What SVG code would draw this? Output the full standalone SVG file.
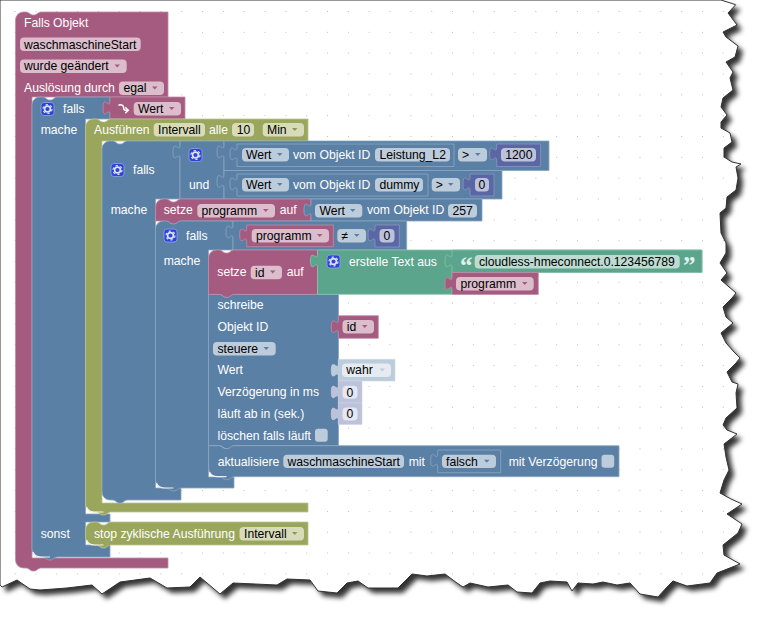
<svg xmlns="http://www.w3.org/2000/svg" width="764" height="620" viewBox="0 0 764 620">
<style>
text{font-family:"Liberation Sans",Arial,sans-serif;font-size:12.2px}
.l{fill:#fff}.t{fill:#000}
.pk{fill:#A55B80;stroke:#C08CA6;stroke-width:.8}
.bl{fill:#5B80A5;stroke:#8CA6C0;stroke-width:.8}
.ol{fill:#9AA65C;stroke:#BCC58F;stroke-width:.8}
.gr{fill:#5BA58C;stroke:#8CC0AE;stroke-width:.8}
.pu{fill:#5B67A5;stroke:#8C95C0;stroke-width:.8}
.sb{fill:#BDCCDB;stroke:#CFDAE6;stroke-width:.6}
.sp{fill:#BDC2DB;stroke:#CFD3E6;stroke-width:.6}
.fp{fill:#DBBDCC}.fb{fill:#BDCCDB}.fo{fill:#D7DBB9}.fg{fill:#BDDBD1}.fu{fill:#BDC2DB}.fw{fill:#E5EBF1}.fs{fill:#E5E7F1}
.ap{fill:#A55B80}.ab{fill:#5B80A5}.ao{fill:#8E9A50}.aw{fill:#BDCCDB}
.hl{fill:none;stroke:#fff;stroke-width:1.2;opacity:.85}
</style>
<defs>
<pattern id="dots" patternUnits="userSpaceOnUse" x="14.6" y="11" width="20.83" height="20.83"><rect width="1" height="1" fill="#bdbdbd"/></pattern>
<filter id="soft" x="-5%" y="-5%" width="110%" height="110%"><feGaussianBlur stdDeviation="2.6"/></filter>
<path id="arr" d="M0,0h5.5l-2.75,3z"/>
<g id="gear">
<rect x=".5" y=".5" width="13" height="13" rx="3" fill="#2E43D8" stroke="#8FA4E6" stroke-width=".8"/>
<circle cx="7" cy="7" r="2.9" fill="none" stroke="#DDE3FA" stroke-width="1.7"/>
<circle cx="7" cy="7" r="4.5" fill="none" stroke="#DDE3FA" stroke-width="1.2" stroke-dasharray="2.3 2.4"/>
</g>
<path id="cb" d="M3,0h6.7a3,3 0 0 1 3,3v7a3,3 0 0 1 -3,3h-6.7a3,3 0 0 1 -3,-3v-7a3,3 0 0 1 3,-3z"/>
<polygon id="paper" points="0,0 721,0 735.7,4.7 728,13 737,25 723,32 726,37 738,46 735,57 726,62 733,72 730,78 733,90 723,98 721,107 727,115 721,122 721,128 730,133 732,142 724,148 724,157 732,162 741,164 736,167 738,178 736,190 727,197 726,208 720,213 721,233 726,243 726,253 720,263 727,273 721,280 736,293 732,298 723,307 726,317 733,323 721,333 726,343 734,352 740,358 736,363 727,372 732,382 738,384 736,393 737,408 726,418 723,425 727,430 737,434 724,444 726,457 729,470 724,480 720,493 731,499 742,504 727,514 742,524 738,533 723,545 724,555 740,564 717,573 710,583 687,586 673,581 667,587 658,597 640,594 630,583 617,585 603,582 593,584 578,583 572,591 567,582 550,581 540,583 532,593 517,592 508,585 488,587 470,583 463,587 457,583 445,574 427,576 412,574 403,583 398,588 368,588 358,581 347,583 337,593 318,591 310,580 287,579 277,585 233,583 220,594 200,577 190,587 167,588 150,578 120,582 102,594 92,585 67,588 40,590 30,589 17,580 2,587 0,585"/>
</defs>
<rect width="764" height="620" fill="#fff"/>
<use href="#paper" transform="translate(5,5)" fill="#000" opacity=".8" filter="url(#soft)"/>
<use href="#paper" fill="#fff"/>
<use href="#paper" fill="url(#dots)" stroke="#333" stroke-width="1"/>

<g id="connectors"></g>

<g id="falls-objekt">
<path class="pk" d="M15.5,20a8,8 0 0 1 8,-8h2c1.500,0 3,.5 4,1.500l1.500,1c.7,.5 1.500,.5 2.500,.5s1.800,0 2.500,-.5l1.500,-1c1,-1 2.500,-1.500 4,-1.500H168V97H32V558H168V568H41.500c-1.500,0 -3,.5 -4,1.500l-1.500,1c-.7,.5 -1.500,.5 -2.500,.5s-1.800,0 -2.500,-.5l-1.500,-1c-1,-1 -2.500,-1.500 -4,-1.500h-2a8,8 0 0 1 -8,-8z"/>
<text class="l" x="24" y="27">Falls Objekt</text>
<rect class="fp" x="20" y="37.500" width="120.700" height="13.500" rx="4"/><text class="t" x="24" y="49">waschmaschineStart</text>
<rect class="fp" x="20" y="59.500" width="106.700" height="13.500" rx="4"/><text class="t" x="24" y="70.300">wurde geändert</text><use href="#arr" class="ap" x="114.500" y="64.500"/>
<text class="l" x="24" y="92.300">Auslösung durch</text>
<rect class="fp" x="119" y="81.500" width="45" height="13.500" rx="4"/><text class="t" x="123.500" y="92.300">egal</text><use href="#arr" class="ap" x="152" y="86.500"/>
</g>

<g id="falls-1">
<path class="bl" d="M32,105a8,8 0 0 1 8,-8h2c1.500,0 3,.5 4,1.500l1.500,1c.7,.5 1.500,.5 2.500,.5s1.800,0 2.500,-.5l1.500,-1c1,-1 2.500,-1.500 4,-1.500H110V119H85.500V514H110V522H85.500V545H110V557H58c-1.500,0 -3,.5 -4,1.500l-1.500,1c-.7,.5 -1.500,.5 -2.500,.5s-1.800,0 -2.500,-.5l-1.500,-1c-1,-1 -2.500,-1.500 -4,-1.500h-2a8,8 0 0 1 -8,-8z"/>
<path class="hl" d="M33,552q2,5 8,5h9"/>
<use href="#gear" x="40.500" y="102"/>
<text class="l" x="63" y="112.900">falls</text>
<text class="l" x="40.700" y="134">mache</text>
<text class="l" x="40.700" y="538">sonst</text>
</g>

<g id="wert-1">
<path class="pk" d="M110,97v4.500c0,8 -7,-7 -7,6.500s7,-2 7,6.500V119H185V97z"/>
<path d="M119,105c3,-.6 4.700,.8 4.700,3q0,2.300 2,2.300h2M125.700,107.800l2.600,2.500 -2.600,2.500" fill="none" stroke="#fff" stroke-width="1.500" stroke-linecap="round"/>
<rect class="fp" x="133.700" y="102" width="47.300" height="13.500" rx="4"/><text class="t" x="138" y="113">Wert</text><use href="#arr" class="ap" x="169" y="107"/>
</g>

<g id="ausfuehren">
<path class="ol" d="M85.500,127a8,8 0 0 1 8,-8h2c1.500,0 3,.5 4,1.500l1.500,1c.7,.5 1.500,.5 2.500,.5s1.800,0 2.500,-.5l1.500,-1c1,-1 2.500,-1.500 4,-1.500H308V141H102V503H308V512H111.500c-1.500,0 -3,.5 -4,1.500l-1.500,1c-.7,.5 -1.500,.5 -2.500,.5s-1.800,0 -2.500,-.5l-1.500,-1c-1,-1 -2.500,-1.500 -4,-1.500h-2a8,8 0 0 1 -8,-8z"/>
<path class="hl" d="M86.500,507q2,5 8,5h9"/>
<text class="l" x="94" y="134">Ausführen</text>
<rect class="fo" x="153.700" y="123" width="51.300" height="13.500" rx="4"/><text class="t" x="158" y="134">Intervall</text>
<text class="l" x="209" y="134">alle</text>
<rect class="fo" x="232" y="123" width="22" height="13.500" rx="4"/><text class="t" x="236.700" y="134">10</text>
<rect class="fo" x="262.700" y="123" width="41.300" height="13.500" rx="4"/><text class="t" x="267" y="134">Min</text><use href="#arr" class="ao" x="292" y="128"/>
</g>

<g id="stop-intervall">
<path class="ol" d="M85.500,530a8,8 0 0 1 8,-8h2c1.500,0 3,.5 4,1.500l1.500,1c.7,.5 1.500,.5 2.500,.5s1.800,0 2.500,-.5l1.500,-1c1,-1 2.500,-1.500 4,-1.500H308V545H111.500c-1.500,0 -3,.5 -4,1.500l-1.500,1c-.7,.5 -1.500,.5 -2.500,.5s-1.800,0 -2.500,-.5l-1.500,-1c-1,-1 -2.500,-1.500 -4,-1.500h-2a8,8 0 0 1 -8,-8z"/>
<path class="hl" d="M86.500,540q2,5 8,5h9"/>
<text class="l" x="94" y="538">stop zyklische Ausführung</text>
<rect class="fo" x="239.500" y="527" width="64.500" height="13.500" rx="4"/><text class="t" x="244" y="538">Intervall</text><use href="#arr" class="ao" x="292" y="532"/>
</g>

<g id="falls-2">
<path class="bl" d="M102,149a8,8 0 0 1 8,-8h2c1.500,0 3,.5 4,1.500l1.500,1c.7,.5 1.500,.5 2.500,.5s1.800,0 2.500,-.5l1.500,-1c1,-1 2.500,-1.500 4,-1.500H180V199H155.500V488H181V500H128c-1.500,0 -3,.5 -4,1.500l-1.500,1c-.7,.5 -1.500,.5 -2.500,.5s-1.800,0 -2.500,-.5l-1.500,-1c-1,-1 -2.500,-1.500 -4,-1.500h-2a8,8 0 0 1 -8,-8z"/>
<use href="#gear" x="110.500" y="163"/>
<text class="l" x="133" y="174">falls</text>
<text class="l" x="110.700" y="214">mache</text>
</g>

<g id="und">
<path class="bl" d="M180,141v4.500c0,8 -7,-7 -7,6.500s7,-2 7,6.500V199H224V141z"/>
<use href="#gear" x="188.500" y="148"/>
<text class="l" x="189" y="189">und</text>
</g>

<g id="vergleich-1">
<path class="bl" d="M224,141v4.500c0,8 -7,-7 -7,6.500s7,-2 7,6.500V170.500H549V141z"/>
<path class="bl" d="M237,144v3.500c0,8 -7,-7 -7,6.500s7,-2 7,6.500V166.500H454V144z"/>
<rect class="fb" x="242" y="148" width="47" height="13.500" rx="4"/><text class="t" x="246" y="159">Wert</text><use href="#arr" class="ab" x="277" y="153"/>
<text class="l" x="293" y="159">vom Objekt ID</text>
<rect class="fb" x="375" y="148" width="75" height="13.500" rx="4"/><text class="t" x="379.500" y="159">Leistung_L2</text>
<rect class="fb" x="458" y="148" width="29" height="13.500" rx="4"/><text class="t" x="462" y="159">&gt;</text><use href="#arr" class="ab" x="475" y="153"/>
<path class="pu" d="M496.700,144v3.500c0,8 -7,-7 -7,6.500s7,-2 7,6.500V166.500H540.700V144z"/>
<rect class="fu" x="501" y="148" width="35" height="13.500" rx="4"/><text class="t" x="505.300" y="159">1200</text>
</g>

<g id="vergleich-2">
<path class="bl" d="M224,170.500v4.500c0,8 -7,-7 -7,6.500s7,-2 7,6.500V199H502V170.500z"/>
<path class="bl" d="M237,174v3.500c0,8 -7,-7 -7,6.500s7,-2 7,6.500V196H428V174z"/>
<rect class="fb" x="242" y="178" width="47" height="13.500" rx="4"/><text class="t" x="246" y="189">Wert</text><use href="#arr" class="ab" x="277" y="183"/>
<text class="l" x="293" y="189">vom Objekt ID</text>
<rect class="fb" x="375" y="178" width="48" height="13.500" rx="4"/><text class="t" x="379.500" y="189">dummy</text>
<rect class="fb" x="431.700" y="178" width="28.300" height="13.500" rx="4"/><text class="t" x="435.700" y="189">&gt;</text><use href="#arr" class="ab" x="448" y="183"/>
<path class="pu" d="M470,174v3.500c0,8 -7,-7 -7,6.500s7,-2 7,6.500V196H494V174z"/>
<rect class="fu" x="475" y="178" width="14" height="13.500" rx="4"/><text class="t" x="478.500" y="189">0</text>
</g>

<g id="setze-programm">
<path class="pk" d="M155.500,207a8,8 0 0 1 8,-8h2c1.500,0 3,.5 4,1.500l1.500,1c.7,.5 1.500,.5 2.500,.5s1.800,0 2.500,-.5l1.500,-1c1,-1 2.500,-1.500 4,-1.500H311V221H181.500c-1.500,0 -3,.5 -4,1.500l-1.500,1c-.7,.5 -1.500,.5 -2.500,.5s-1.800,0 -2.500,-.5l-1.500,-1c-1,-1 -2.500,-1.500 -4,-1.500H155.500z"/>
<text class="l" x="163.700" y="214">setze</text>
<rect class="fp" x="197.300" y="204" width="77.700" height="13.500" rx="4"/><text class="t" x="201.600" y="215">programm</text><use href="#arr" class="ap" x="263" y="209"/>
<text class="l" x="279.700" y="214">auf</text>
</g>

<g id="wert-257">
<path class="bl" d="M311,199v4.500c0,8 -7,-7 -7,6.500s7,-2 7,6.500V221H482V199z"/>
<rect class="fb" x="315" y="204" width="47.300" height="13.500" rx="4"/><text class="t" x="319.500" y="215">Wert</text><use href="#arr" class="ab" x="350" y="209"/>
<text class="l" x="367" y="214">vom Objekt ID</text>
<rect class="fb" x="448" y="204" width="29" height="13.500" rx="4"/><text class="t" x="452.500" y="215">257</text>
</g>

<g id="falls-3">
<path class="bl" d="M155.500,229a8,8 0 0 1 8,-8h2c1.500,0 3,.5 4,1.500l1.500,1c.7,.5 1.500,.5 2.500,.5s1.800,0 2.500,-.5l1.500,-1c1,-1 2.500,-1.500 4,-1.500H233V250H208.500V477H234V488H181.500c-1.500,0 -3,.5 -4,1.500l-1.500,1c-.7,.5 -1.500,.5 -2.500,.5s-1.800,0 -2.500,-.5l-1.500,-1c-1,-1 -2.500,-1.500 -4,-1.500h-2a8,8 0 0 1 -8,-8z"/>
<path class="hl" d="M156.500,483q2,5 8,5h9"/>
<use href="#gear" x="163.500" y="228.500"/>
<text class="l" x="186" y="240">falls</text>
<text class="l" x="163.700" y="265">mache</text>
</g>

<g id="vergleich-3">
<path class="bl" d="M233,221v4.500c0,8 -7,-7 -7,6.500s7,-2 7,6.500V250H406.700V221z"/>
<path class="pk" d="M246.700,225v3.500c0,8 -7,-7 -7,6.500s7,-2 7,6.500V246.700H333.300V225z"/>
<rect class="fp" x="251.700" y="229" width="77.300" height="13.500" rx="4"/><text class="t" x="256" y="240">programm</text><use href="#arr" class="ap" x="317" y="234"/>
<rect class="fb" x="337.300" y="229" width="28.700" height="13.500" rx="4"/><text class="t" x="341.500" y="240">≠</text><use href="#arr" class="ab" x="354" y="234"/>
<path class="pu" d="M375,225v3.500c0,8 -7,-7 -7,6.500s7,-2 7,6.500V247H399.300V225z"/>
<rect class="fu" x="379.500" y="229" width="15" height="13.500" rx="4"/><text class="t" x="383.500" y="240">0</text>
</g>

<g id="schreibe">
<path class="bl" d="M208.500,294.300h10c1.500,0 3,.5 4,1.500l1.500,1c.7,.5 1.500,.5 2.500,.5s1.800,0 2.500,-.5l1.500,-1c1,-1 2.500,-1.500 4,-1.500H338.500V445.700H235c-1.500,0 -3,.5 -4,1.500l-1.500,1c-.7,.5 -1.500,.5 -2.500,.5s-1.800,0 -2.500,-.5l-1.500,-1c-1,-1 -2.500,-1.500 -4,-1.500H208.500z"/>
<text class="l" x="217.500" y="309">schreibe</text>
<text class="l" x="217.500" y="331">Objekt ID</text>
<rect class="fb" x="213" y="342" width="62.700" height="13.500" rx="4"/><text class="t" x="217.500" y="353">steuere</text><use href="#arr" class="ab" x="263.500" y="347"/>
<text class="l" x="217.500" y="374">Wert</text>
<text class="l" x="217.500" y="396">Verzögerung in ms</text>
<text class="l" x="217.500" y="418">läuft ab in (sek.)</text>
<text class="l" x="217.500" y="439.500">löschen falls läuft</text>
<use href="#cb" class="fb" x="315" y="428.700"/>
</g>

<g id="setze-id">
<path class="pk" d="M208.500,258a8,8 0 0 1 8,-8h2c1.500,0 3,.5 4,1.500l1.500,1c.7,.5 1.500,.5 2.500,.5s1.800,0 2.500,-.5l1.500,-1c1,-1 2.500,-1.500 4,-1.500H317.500V294.300H234.700c-1.500,0 -3,.5 -4,1.500l-1.500,1c-.7,.5 -1.500,.5 -2.500,.5s-1.800,0 -2.500,-.5l-1.500,-1c-1,-1 -2.500,-1.500 -4,-1.500H208.500z"/>
<text class="l" x="217.300" y="276">setze</text>
<rect class="fp" x="250.700" y="265.700" width="31.300" height="13.500" rx="4"/><text class="t" x="255" y="276.500">id</text><use href="#arr" class="ap" x="270" y="270.500"/>
<text class="l" x="286.700" y="276">auf</text>
</g>

<g id="erstelle-text">
<path class="gr" d="M317.500,250v4.500c0,8 -7,-7 -7,6.500s7,-2 7,6.500V294.300H452V272.500H702V250z"/>
<use href="#gear" x="326.500" y="254.500"/>
<text class="l" x="349" y="266.300">erstelle Text aus</text>
</g>

<g id="text-cloudless">
<path class="gr" d="M452,250v4.500c0,8 -7,-7 -7,6.500s7,-2 7,6.500V272.500H702V250z"/>
<text x="460" y="274" style="font-family:'Liberation Serif',serif;font-size:25px;font-weight:bold" fill="#E4EFEB">“</text>
<rect class="fg" x="474.700" y="255" width="205" height="13.500" rx="4"/><text class="t" x="479" y="266">cloudless-hmeconnect.0.123456789</text>
<text x="683" y="274" style="font-family:'Liberation Serif',serif;font-size:25px;font-weight:bold" fill="#E4EFEB">”</text>
</g>

<g id="programm-2">
<path class="pk" d="M452,272.500v4.500c0,8 -7,-7 -7,6.500s7,-2 7,6.500V294.500H538.300V272.500z"/>
<rect class="fp" x="456" y="277" width="77.700" height="13.500" rx="4"/><text class="t" x="460.500" y="288">programm</text><use href="#arr" class="ap" x="522" y="282"/>
</g>

<g id="id-wert">
<path class="pk" d="M338.300,315.700v4.500c0,8 -7,-7 -7,6.500s7,-2 7,6.500V338.300H378.300V315.700z"/>
<rect class="fp" x="342.500" y="320" width="31.500" height="13.500" rx="4"/><text class="t" x="346.800" y="331">id</text><use href="#arr" class="ap" x="362" y="325"/>
</g>

<g id="wahr">
<path class="sb" d="M338.300,359.300v4.500c0,8 -7,-7 -7,6.500s7,-2 7,6.500V381H395V359.300z"/>
<rect class="fw" x="342" y="363.500" width="49" height="13.500" rx="4"/><text class="t" x="346.300" y="374.300">wahr</text><use href="#arr" class="aw" x="379.500" y="368.500"/>
</g>

<g id="verzoegerung">
<path class="sp" d="M338.300,381v4.500c0,8 -7,-7 -7,6.500s7,-2 7,6.500V403H362V381z"/>
<rect class="fs" x="342.500" y="385.700" width="15" height="13" rx="4"/><text class="t" x="346.500" y="396.500">0</text>
</g>

<g id="laeuft-ab">
<path class="sp" d="M338.300,403v4.500c0,8 -7,-7 -7,6.500s7,-2 7,6.500V424.500H362V403z"/>
<rect class="fs" x="342.500" y="407.500" width="15" height="13" rx="4"/><text class="t" x="346.500" y="418.300">0</text>
</g>

<g id="aktualisiere">
<path class="bl" d="M208.500,445.700h10c1.500,0 3,.5 4,1.500l1.500,1c.7,.5 1.500,.5 2.500,.5s1.800,0 2.500,-.5l1.500,-1c1,-1 2.500,-1.500 4,-1.500H619V476.700H234.700c-1.500,0 -3,.5 -4,1.500l-1.500,1c-.7,.5 -1.500,.5 -2.500,.5s-1.800,0 -2.500,-.5l-1.500,-1c-1,-1 -2.500,-1.500 -4,-1.500h-2a8,8 0 0 1 -8,-8z"/>
<path class="hl" d="M209.500,472q2,4.700 8,4.700h9"/>
<text class="l" x="217.700" y="465.500">aktualisiere</text>
<rect class="fb" x="283.300" y="454.700" width="120.700" height="13.300" rx="4"/><text class="t" x="287.500" y="465.500">waschmaschineStart</text>
<text class="l" x="408.700" y="465.500">mit</text>
<path class="bl" d="M437.700,450v4c0,8 -7,-7 -7,6.500s7,-2 7,6.500V472.700H500.700V450z"/>
<rect class="fb" x="442" y="454.700" width="54" height="13.300" rx="4"/><text class="t" x="446" y="465.500">falsch</text><use href="#arr" class="ab" x="484" y="459.700"/>
<text class="l" x="508.700" y="465.500">mit Verzögerung</text>
<use href="#cb" class="fb" x="601.500" y="454.700"/>
</g>
</svg>
